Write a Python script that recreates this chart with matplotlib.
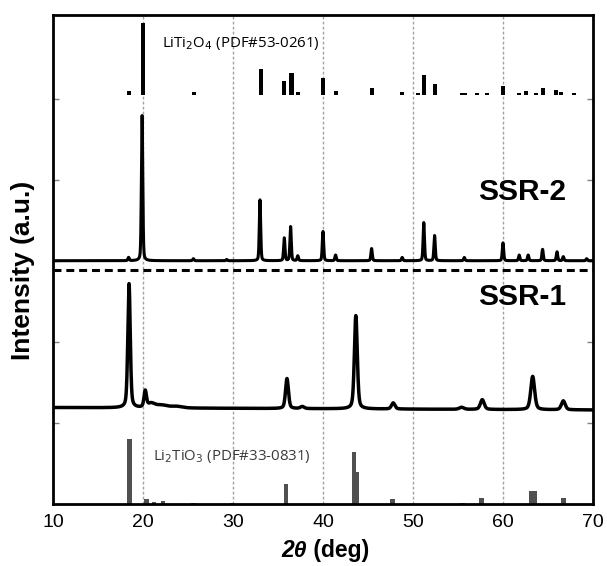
import numpy as np
import matplotlib.pyplot as plt

# reference pattern LiTi2O4 (PDF#53-0261): positions (deg) and stick heights
lti_pos = [18.4, 19.95, 25.7, 33.1, 35.7, 36.5, 37.2, 40.0, 41.4, 45.4, 48.8,
           50.6, 51.2, 52.4, 55.4, 55.8, 57.1, 58.2, 60.0, 61.8, 62.6, 63.7,
           64.4, 65.9, 66.4, 67.9]
lti_int = [0.05, 0.89, 0.04, 0.33, 0.17, 0.27, 0.04, 0.21, 0.05, 0.09, 0.04,
           0.025, 0.25, 0.14, 0.025, 0.025, 0.025, 0.025, 0.12, 0.025, 0.05,
           0.03, 0.09, 0.06, 0.035, 0.025]

# reference pattern Li2TiO3 (PDF#33-0831)
lto_pos = [18.5, 20.4, 21.2, 22.2, 25.6, 29.9, 35.9, 43.45, 43.7, 47.75,
           55.5, 57.6, 63.1, 63.5, 66.7]
lto_int = [0.80, 0.06, 0.03, 0.04, 0.01, 0.01, 0.25, 0.64, 0.39, 0.06,
           0.01, 0.075, 0.16, 0.16, 0.075]

# measured SSR-2 peaks (offset baseline 3.0)
ssr2_pos = [18.4, 19.9, 25.6, 29.3, 33.0, 35.7, 36.4, 37.2, 40.0, 41.4, 45.4,
            48.8, 51.2, 52.4, 55.7, 60.0, 61.8, 62.8, 64.4, 66.0, 66.7, 69.3]
ssr2_int = [0.04, 1.79, 0.025, 0.015, 0.75, 0.28, 0.42, 0.06, 0.36, 0.07,
            0.15, 0.04, 0.47, 0.31, 0.04, 0.22, 0.07, 0.07, 0.14, 0.11, 0.05,
            0.025]
ssr2_base = 3.0

# measured SSR-1 peaks (offset baseline ~1.18)
ssr1_pos = [18.45, 20.25, 20.9, 22.0, 23.7, 36.0, 37.7, 43.65, 47.8, 55.4,
            57.7, 63.3, 66.7]
ssr1_int = [1.53, 0.20, 0.05, 0.035, 0.02, 0.37, 0.025, 1.15, 0.075, 0.025,
            0.12, 0.41, 0.11]
ssr1_fwhm = [0.32, 0.32, 0.9, 1.5, 1.5, 0.38, 0.5, 0.38, 0.45, 0.6,
             0.5, 0.5, 0.5]
ssr1_base = (1.19, 1.16)

x_ticks = [10, 20, 30, 40, 50, 60, 70]


def pseudo_voigt(x, pos, amp, fwhm, eta=0.5):
    """ Sum of pseudo-Voigt peaks """
    y = np.zeros_like(x)
    for p, a, w in zip(pos, amp, fwhm):
        g = np.exp(-4 * np.log(2) * ((x - p) / w) ** 2)
        l = 1 / (1 + 4 * ((x - p) / w) ** 2)
        y += a * (eta * l + (1 - eta) * g)
    return y


two_theta = np.linspace(10, 70, 6001)
ssr2 = ssr2_base + pseudo_voigt(two_theta, ssr2_pos, ssr2_int, [0.18] * len(ssr2_pos), eta=0.3)
ssr1 = np.linspace(*ssr1_base, two_theta.size) + pseudo_voigt(two_theta, ssr1_pos, ssr1_int, ssr1_fwhm, eta=0.4)

plt.rcParams['font.family'] = ['Liberation Sans', 'DejaVu Sans']

fig = plt.figure(figsize=(6.07, 5.66), dpi=100)
ax = fig.add_axes([0.0873, 0.1095, 0.8896, 0.864])

# vertical guide lines
for gx in x_ticks[1:-1]:
    ax.axvline(gx, color='#a0a0a0', lw=1.0, ls=(0, (2, 1.6)), zorder=0)

ax.bar(lto_pos, lto_int, width=0.5, bottom=0, color='#505050', zorder=2)
ax.bar(lti_pos, lti_int, width=0.45, bottom=5.04, color='black', zorder=2)

ax.plot(two_theta, ssr2, color='black', lw=2.2, zorder=3)
ax.plot(two_theta, ssr1, color='black', lw=2.5, zorder=3)
ax.axhline(2.88, color='black', lw=2.2, ls=(0, (2.6, 1.6)), zorder=3)

ax.text(57.2, 3.85, 'SSR-2', fontsize=21.5, fontweight='bold', ha='left', va='center')
ax.text(57.2, 2.55, 'SSR-1', fontsize=21.5, fontweight='bold', ha='left', va='center')

small_font = ['Open Sans', 'DejaVu Sans']
ax.text(22.1, 5.68, r'LiTi$_2$O$_4$ (PDF#53-0261)', fontsize=10.8, family=small_font,
        ha='left', va='center', color='black')
ax.text(21.1, 0.58, r'Li$_2$TiO$_3$ (PDF#33-0831)', fontsize=10.8, family=small_font,
        ha='left', va='center', color='#3a3a3a')

ax.set_xlim(10, 70)
ax.set_ylim(0, 6.03)
ax.set_xticks(x_ticks)
ax.set_yticks([1, 2, 3, 4, 5])
ax.tick_params(axis='x', length=0, labelsize=14, pad=7)
ax.tick_params(axis='y', direction='in', left=True, right=True, length=4,
               width=1, color='#808080', labelleft=False)
for sp in ax.spines.values():
    sp.set_linewidth(2.0)

fig.text(0.038, 1 - 270 / 566, 'Intensity (a.u.)', rotation=90, fontsize=19,
         fontweight='bold', ha='center', va='center')
fig.text(0.506, 0.016, '2θ', fontsize=16.5, fontweight='bold', fontstyle='italic',
         ha='right', va='baseline')
fig.text(0.506, 0.016, ' (deg)', fontsize=16.5, fontweight='bold', ha='left', va='baseline')

fig.savefig('out.png', dpi=100)
